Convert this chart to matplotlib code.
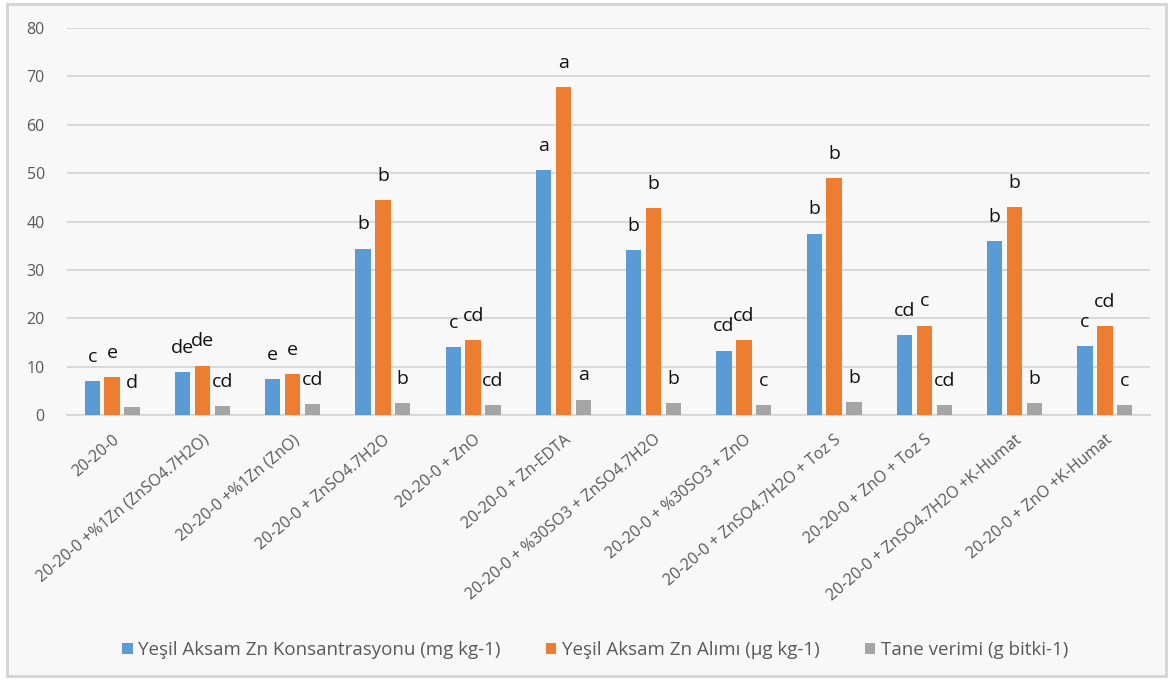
import matplotlib
matplotlib.use("Agg")
import matplotlib.pyplot as plt
from matplotlib.patches import Rectangle
import numpy as np

plt.rcParams['font.family'] = ['Open Sans', 'DejaVu Sans']

categories = [
    "20-20-0",
    "20-20-0 +%1Zn (ZnSO4.7H2O)",
    "20-20-0 +%1Zn (ZnO)",
    "20-20-0 + ZnSO4.7H2O",
    "20-20-0 + ZnO",
    "20-20-0 + Zn-EDTA",
    "20-20-0 + %30SO3 + ZnSO4.7H2O",
    "20-20-0 + %30SO3 + ZnO",
    "20-20-0 + ZnSO4.7H2O + Toz S",
    "20-20-0 + ZnO + Toz S",
    "20-20-0 + ZnSO4.7H2O +K-Humat",
    "20-20-0 + ZnO +K-Humat",
]

series_names = [
    "Yeşil Aksam Zn Konsantrasyonu (mg kg-1)",
    "Yeşil Aksam Zn Alımı (µg kg-1)",
    "Tane verimi (g bitki-1)",
]

zn_conc = [7.0, 8.8, 7.4, 34.4, 14.0, 50.6, 34.1, 13.3, 37.5, 16.5, 35.9, 14.3]
zn_uptake = [7.8, 10.2, 8.4, 44.4, 15.5, 67.8, 42.8, 15.5, 49.0, 18.5, 43.0, 18.3]
grain_yield = [1.6, 1.8, 2.2, 2.5, 2.0, 3.2, 2.5, 2.0, 2.7, 2.0, 2.5, 2.0]

letters_conc = ["c", "de", "e", "b", "c", "a", "b", "cd", "b", "cd", "b", "c"]
letters_uptake = ["e", "de", "e", "b", "cd", "a", "b", "cd", "b", "c", "b", "cd"]
letters_yield = ["d", "cd", "cd", "b", "cd", "a", "b", "c", "b", "cd", "b", "c"]

y_ticks = [0, 10, 20, 30, 40, 50, 60, 70, 80]

colors = ["#5B9BD5", "#ED7D31", "#A5A5A5"]

fig = plt.figure(figsize=(11.74, 6.8), dpi=100)
fig.patch.set_facecolor("white")

# light framed panel behind the chart
frame = Rectangle((7 / 1174, 4 / 680), 1159 / 1174, 672 / 680,
                  transform=fig.transFigure, facecolor="#f8f8f8",
                  edgecolor="#d4d4d4", linewidth=2, zorder=0)
fig.add_artist(frame)

ax = fig.add_axes([67 / 1174, 1 - 415 / 680, 1083 / 1174, 387 / 680])
ax.set_zorder(2)
ax.set_facecolor("none")

x = np.arange(len(categories))
step = 0.22
width = 0.17
all_series = [zn_conc, zn_uptake, grain_yield]
all_letters = [letters_conc, letters_uptake, letters_yield]

for i, (vals, lets, col, name) in enumerate(zip(all_series, all_letters, colors, series_names)):
    pos = x + (i - 1) * step
    bars = ax.bar(pos, vals, width=width, color=col, label=name, zorder=3)
    for b, v, t in zip(bars, vals, lets):
        ax.annotate(t, (b.get_x() + b.get_width() / 2, v),
                    xytext=(0, 11), textcoords="offset points",
                    ha="center", va="bottom", fontsize=14, color="#111111",
                    zorder=4)

ax.set_xlim(-0.5, len(categories) - 0.5)
ax.set_ylim(0, 80)
ax.set_yticks(y_ticks)
ax.yaxis.grid(True, color="#d9d9d9", linewidth=1.5, zorder=0)
ax.set_axisbelow(True)
for s in ["top", "right", "left"]:
    ax.spines[s].set_visible(False)
ax.spines["bottom"].set_color("#d9d9d9")
ax.spines["bottom"].set_linewidth(1.5)
ax.tick_params(axis="both", length=0, colors="#595959")
ax.tick_params(axis="y", pad=16, labelsize=11.5)

ax.set_xticks(x)
ax.set_xticklabels(categories, rotation=40, ha="right",
                   rotation_mode="anchor", fontsize=11.5, color="#595959")
ax.tick_params(axis="x", pad=12)

leg = fig.legend(loc="center", bbox_to_anchor=(0.507, 1 - 650 / 680), ncol=3,
                 frameon=False, fontsize=13.5, handlelength=0.55, handleheight=0.55,
                 handletextpad=0.3, columnspacing=2.4, labelcolor="#595959")

fig.savefig("out.png", dpi=100, facecolor=fig.get_facecolor())
